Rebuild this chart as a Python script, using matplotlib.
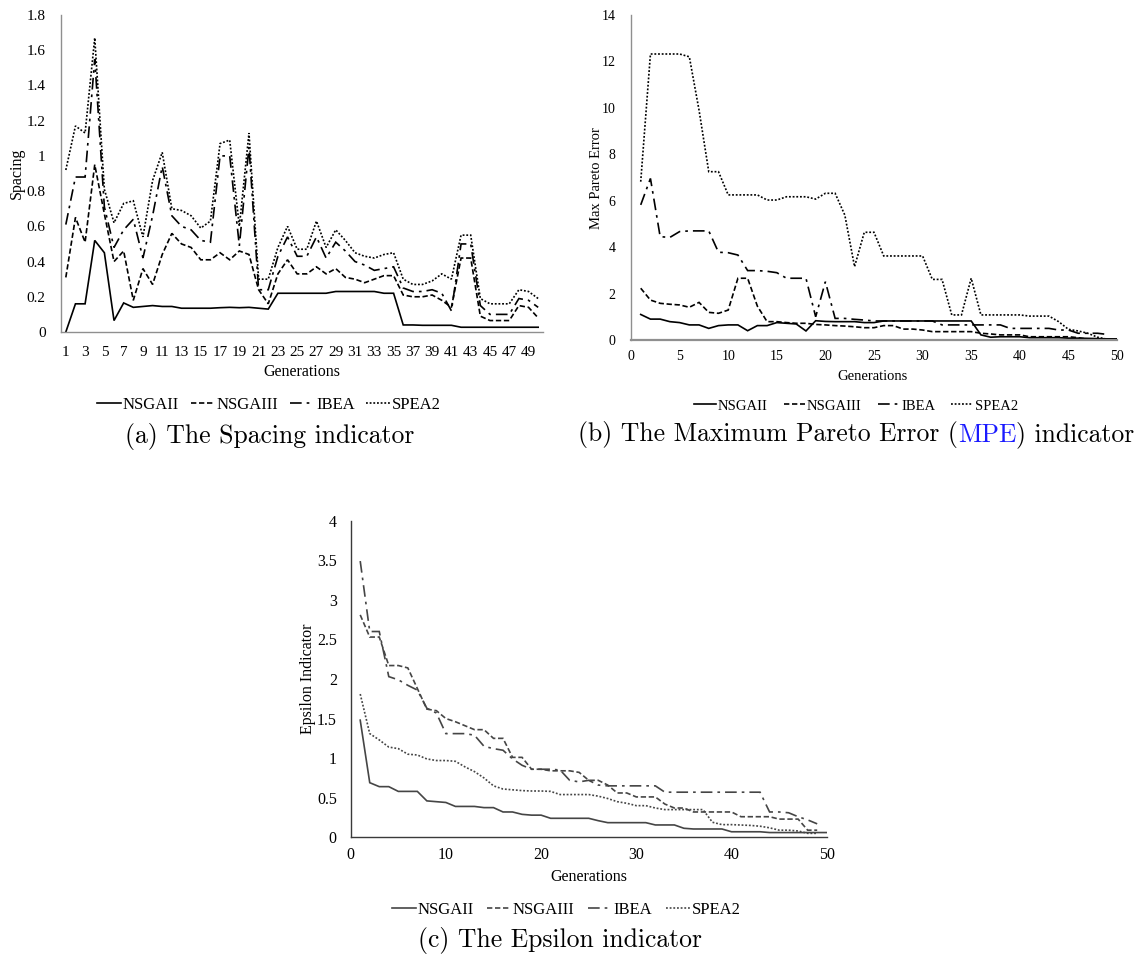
import matplotlib
matplotlib.use("Agg")
import matplotlib.pyplot as plt

W, H = 1137, 956

# ---------------- data ----------------
series_names = ["NSGAII", "NSGAIII", "IBEA", "SPEA2"]

# (a) Spacing
spacing_nsgaii = [0, 0.16, 0.16, 0.52, 0.45, 0.065, 0.165, 0.14, 0.145, 0.15,
                  0.145, 0.145, 0.135, 0.135, 0.135, 0.135, 0.138, 0.14, 0.138, 0.14,
                  0.135, 0.13, 0.22, 0.22, 0.22, 0.22, 0.22, 0.22, 0.23, 0.23,
                  0.23, 0.23, 0.23, 0.22, 0.22, 0.04, 0.04, 0.038, 0.038, 0.038,
                  0.038, 0.027, 0.027, 0.027, 0.027, 0.027, 0.027, 0.027, 0.027, 0.027]
spacing_nsgaiii = [0.31, 0.65, 0.51, 0.95, 0.67, 0.40, 0.46, 0.18, 0.36, 0.27,
                   0.44, 0.56, 0.50, 0.48, 0.41, 0.41, 0.45, 0.41, 0.46, 0.44,
                   0.24, 0.16, 0.33, 0.41, 0.33, 0.33, 0.37, 0.33, 0.36, 0.31,
                   0.30, 0.28, 0.30, 0.32, 0.32, 0.21, 0.20, 0.20, 0.21, 0.18,
                   0.14, 0.42, 0.42, 0.09, 0.065, 0.065, 0.065, 0.15, 0.14, 0.08]
spacing_ibea = [0.61, 0.88, 0.88, 1.55, 0.71, 0.48, 0.58, 0.64, 0.42, 0.66,
                0.94, 0.66, 0.60, 0.58, 0.52, 0.51, 1.00, 1.00, 0.49, 1.05,
                0.24, 0.24, 0.43, 0.54, 0.43, 0.43, 0.54, 0.42, 0.51, 0.46,
                0.40, 0.38, 0.35, 0.36, 0.37, 0.25, 0.23, 0.23, 0.24, 0.22,
                0.12, 0.50, 0.50, 0.15, 0.10, 0.10, 0.10, 0.19, 0.18, 0.14]
spacing_spea2 = [0.92, 1.17, 1.13, 1.67, 0.81, 0.62, 0.73, 0.745, 0.54, 0.86,
                 1.02, 0.70, 0.69, 0.66, 0.59, 0.63, 1.07, 1.09, 0.60, 1.13,
                 0.30, 0.30, 0.48, 0.60, 0.47, 0.47, 0.63, 0.48, 0.58, 0.52,
                 0.45, 0.43, 0.42, 0.44, 0.45, 0.30, 0.27, 0.27, 0.29, 0.33,
                 0.30, 0.55, 0.55, 0.19, 0.16, 0.16, 0.16, 0.24, 0.23, 0.19]

# (b) Maximum Pareto Error
mpe_nsgaii = [1.10, 0.90, 0.90, 0.79, 0.75, 0.65, 0.65, 0.50, 0.62, 0.65,
              0.65, 0.40, 0.62, 0.62, 0.75, 0.72, 0.69, 0.39, 0.83, 0.80,
              0.79, 0.79, 0.79, 0.75, 0.75, 0.82, 0.82, 0.82, 0.82, 0.82,
              0.82, 0.82, 0.82, 0.82, 0.82, 0.22, 0.12, 0.14, 0.14, 0.14,
              0.10, 0.10, 0.10, 0.10, 0.08, 0.08, 0.07, 0.06, 0.05, 0.05]
mpe_nsgaiii = [2.23, 1.72, 1.58, 1.54, 1.51, 1.41, 1.62, 1.19, 1.15, 1.29,
               2.66, 2.66, 1.46, 0.79, 0.79, 0.75, 0.72, 0.72, 0.67, 0.65,
               0.62, 0.60, 0.57, 0.53, 0.53, 0.62, 0.62, 0.47, 0.47, 0.43,
               0.36, 0.36, 0.36, 0.36, 0.36, 0.29, 0.26, 0.22, 0.22, 0.22,
               0.14, 0.14, 0.14, 0.14, 0.14, 0.10, 0.03, 0.03, 0.03, 0.03]
mpe_ibea = [5.82, 6.96, 4.45, 4.42, 4.67, 4.70, 4.70, 4.70, 3.78, 3.76,
            3.66, 2.99, 2.99, 2.96, 2.90, 2.66, 2.66, 2.66, 1.00, 2.51,
            0.93, 0.93, 0.89, 0.86, 0.82, 0.82, 0.82, 0.82, 0.82, 0.82,
            0.82, 0.65, 0.65, 0.65, 0.65, 0.65, 0.65, 0.65, 0.50, 0.50,
            0.50, 0.50, 0.50, 0.43, 0.43, 0.29, 0.29, 0.29, 0.24]
mpe_spea2 = [6.82, 12.32, 12.32, 12.32, 12.32, 12.2, 9.9, 7.25, 7.25, 6.25,
             6.25, 6.25, 6.25, 6.03, 6.03, 6.17, 6.17, 6.17, 6.07, 6.32,
             6.32, 5.38, 3.16, 4.64, 4.64, 3.62, 3.62, 3.62, 3.62, 3.62,
             2.61, 2.61, 1.08, 1.08, 2.66, 1.08, 1.08, 1.08, 1.08, 1.08,
             1.03, 1.03, 1.03, 0.79, 0.46, 0.39, 0.29, 0.12, 0.03, 0.03]

# (c) Epsilon indicator
eps_nsgaii = [1.48, 0.69, 0.64, 0.64, 0.58, 0.58, 0.58, 0.46, 0.45, 0.44,
              0.39, 0.39, 0.39, 0.375, 0.375, 0.32, 0.32, 0.29, 0.28, 0.28,
              0.24, 0.24, 0.24, 0.24, 0.24, 0.21, 0.185, 0.185, 0.185, 0.185,
              0.185, 0.156, 0.156, 0.156, 0.114, 0.105, 0.105, 0.105, 0.105, 0.07,
              0.07, 0.07, 0.07, 0.06, 0.06, 0.06, 0.06, 0.06, 0.06, 0.06]
eps_nsgaiii = [2.81, 2.53, 2.53, 2.17, 2.17, 2.14, 1.88, 1.62, 1.60, 1.50,
               1.46, 1.41, 1.36, 1.36, 1.25, 1.25, 1.01, 1.01, 0.86, 0.86,
               0.84, 0.84, 0.84, 0.82, 0.72, 0.72, 0.66, 0.56, 0.56, 0.51,
               0.51, 0.51, 0.42, 0.37, 0.37, 0.32, 0.32, 0.32, 0.32, 0.32,
               0.26, 0.26, 0.26, 0.26, 0.23, 0.23, 0.23, 0.09, 0.09]
eps_ibea = [3.49, 2.60, 2.60, 2.03, 1.99, 1.92, 1.86, 1.63, 1.57, 1.31,
            1.31, 1.31, 1.29, 1.15, 1.12, 1.10, 0.99, 0.91, 0.86, 0.86,
            0.86, 0.85, 0.72, 0.70, 0.72, 0.66, 0.65, 0.65, 0.65, 0.65,
            0.65, 0.65, 0.57, 0.57, 0.57, 0.57, 0.57, 0.57, 0.57, 0.57,
            0.57, 0.57, 0.57, 0.32, 0.32, 0.31, 0.26, 0.22, 0.17]
eps_spea2 = [1.81, 1.31, 1.23, 1.14, 1.12, 1.05, 1.04, 0.99, 0.97, 0.97,
             0.96, 0.89, 0.83, 0.75, 0.65, 0.61, 0.60, 0.59, 0.585, 0.585,
             0.58, 0.54, 0.54, 0.54, 0.54, 0.52, 0.49, 0.45, 0.43, 0.40,
             0.40, 0.37, 0.35, 0.35, 0.35, 0.35, 0.35, 0.19, 0.16, 0.16,
             0.155, 0.15, 0.14, 0.12, 0.09, 0.09, 0.08, 0.05, 0.05]

spacing_xticks = list(range(1, 51, 2))
spacing_yticks = [0, 0.2, 0.4, 0.6, 0.8, 1.0, 1.2, 1.4, 1.6, 1.8]
mpe_xticks = [0, 5, 10, 15, 20, 25, 30, 35, 40, 45, 50]
mpe_yticks = [0, 2, 4, 6, 8, 10, 12, 14]
eps_xticks = [0, 10, 20, 30, 40, 50]
eps_yticks = [0, 0.5, 1, 1.5, 2, 2.5, 3, 3.5, 4]

# ---------------- styling ----------------
SERIF = "Liberation Serif"
CAPTION = "cmr10"
CAPTION_FS = 18.5
line_styles = {
    "NSGAII": "-",
    "NSGAIII": (0, (3.2, 1.6)),
    "IBEA": (0, (7, 3, 1.6, 3)),
    "SPEA2": (0, (1.1, 1.1)),
}

fig = plt.figure(figsize=(W / 100, H / 100), dpi=100)


def fx(x):
    return x / W


def fy(y):
    return 1 - y / H


def make_axes(left, right, top, bottom):
    return fig.add_axes([fx(left), fy(bottom), (right - left) / W, (bottom - top) / H])


def fmt(v):
    return f"{v:g}"


def style_axes(ax, xticks, yticks, xlim, ylim, spine_color, tick_fs, xpad, ypad):
    ax.set_xlim(*xlim)
    ax.set_ylim(*ylim)
    ax.set_xticks(xticks)
    ax.set_xticklabels([str(v) for v in xticks], fontfamily=SERIF, fontsize=tick_fs)
    ax.set_yticks(yticks)
    ax.set_yticklabels([fmt(v) for v in yticks], fontfamily=SERIF, fontsize=tick_fs)
    ax.tick_params(axis="x", length=0, pad=xpad)
    ax.tick_params(axis="y", length=0, pad=ypad)
    for s in ("top", "right"):
        ax.spines[s].set_visible(False)
    for s in ("left", "bottom"):
        ax.spines[s].set_color(spine_color)
        ax.spines[s].set_linewidth(1.0)
    ax.patch.set_alpha(0)


def plot_series(ax, data, color, lw=1.2):
    handles = []
    for name, vals in zip(series_names, data):
        x = list(range(1, len(vals) + 1))
        (h,) = ax.plot(x, vals, color=color, lw=lw, linestyle=line_styles[name],
                       solid_joinstyle="miter", dash_joinstyle="miter", label=name)
        handles.append(h)
    return handles


def add_legend(handles, cx, cy, fs, colsp, hlen=1.45):
    return fig.legend(handles, series_names, loc="center", bbox_to_anchor=(fx(cx), fy(cy)),
                      ncol=4, frameon=False, handlelength=hlen, handletextpad=0.1,
                      columnspacing=colsp, prop={"family": SERIF, "size": fs})


# ---------------- (a) Spacing ----------------
ax_a = make_axes(61, 543, 15, 332)
h = plot_series(ax_a, [spacing_nsgaii, spacing_nsgaiii, spacing_ibea, spacing_spea2], "black")
style_axes(ax_a, spacing_xticks, spacing_yticks, (0.5, 50.5), (0, 1.8), "#8f8f8f", 11, 10, 11)
fig.text(fx(17), fy(173), "Spacing", rotation=90, ha="center", va="center",
         fontfamily=SERIF, fontsize=11.5)
fig.text(fx(302), fy(372), "Generations", ha="center", va="center",
         fontfamily=SERIF, fontsize=11.5)
add_legend(h, 269, 405, 12, 0.7)
fig.text(fx(270), fy(436), "(a) The Spacing indicator", ha="center", va="center",
         fontfamily=CAPTION, fontsize=CAPTION_FS)

# ---------------- (b) Maximum Pareto Error ----------------
ax_b = make_axes(631, 1117, 15, 340)
h = plot_series(ax_b, [mpe_nsgaii, mpe_nsgaiii, mpe_ibea, mpe_spea2], "black")
style_axes(ax_b, mpe_xticks, mpe_yticks, (0, 50), (0, 14), "#8f8f8f", 10, 7, 11)
ax_b.spines["bottom"].set_linewidth(1.6)
fig.text(fx(597), fy(178), "Max Pareto Error", rotation=90, ha="center", va="center",
         fontfamily=SERIF, fontsize=10.5)
fig.text(fx(873), fy(376), "Generations", ha="center", va="center",
         fontfamily=SERIF, fontsize=10.5)
add_legend(h, 856, 406, 10.5, 1.1, 1.5)
cap1 = fig.text(fx(578), fy(434), "(b) The Maximum Pareto Error (", ha="left", va="center",
                fontfamily=CAPTION, fontsize=CAPTION_FS)
cap2 = ax_b.annotate("MPE", xy=(1, 0), xycoords=cap1, ha="left", va="bottom",
                     fontfamily=CAPTION, fontsize=CAPTION_FS, color="#1a1aff",
                     annotation_clip=False)
ax_b.annotate(") indicator", xy=(1, 0), xycoords=cap2, ha="left", va="bottom",
              fontfamily=CAPTION, fontsize=CAPTION_FS, annotation_clip=False)

# ---------------- (c) Epsilon indicator ----------------
ax_c = make_axes(350.7, 826.7, 520.7, 837.3)
h = plot_series(ax_c, [eps_nsgaii, eps_nsgaiii, eps_ibea, eps_spea2], "#454545")
style_axes(ax_c, eps_xticks, eps_yticks, (0, 50), (0, 4), "#3a3a3a", 11.5, 7, 10)
fig.text(fx(308), fy(679), "Epsilon Indicator", rotation=90, ha="center", va="center",
         fontfamily=SERIF, fontsize=11.5)
fig.text(fx(589), fy(877), "Generations", ha="center", va="center",
         fontfamily=SERIF, fontsize=11.5)
add_legend(h, 566, 910, 12, 0.8)
fig.text(fx(560), fy(940), "(c) The Epsilon indicator", ha="center", va="center",
         fontfamily=CAPTION, fontsize=CAPTION_FS)

fig.savefig("out.png", dpi=100, facecolor="white")
